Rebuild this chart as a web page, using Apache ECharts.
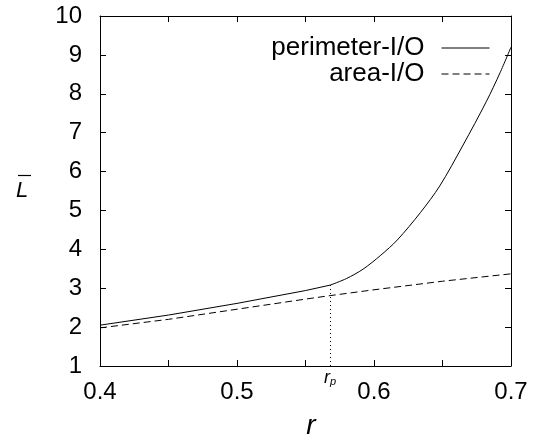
<!DOCTYPE html>
<html>
<head>
<meta charset="utf-8">
<script src="https://cdn.jsdelivr.net/npm/echarts@6/dist/echarts.min.js"></script>
<style>
  html, body { margin: 0; padding: 0; background: #fff; }
  #chart { width: 533px; height: 438px; }
</style>
</head>
<body>
<div id="chart"></div>
<script>
// ---- data ----
const rPerimLow = [0.40, 0.45, 0.50, 0.55, 0.568];
const lPerimLow = [2.05, 2.31, 2.61, 2.94, 3.08];
const rPerimHigh = [0.568, 0.580, 0.592, 0.605, 0.617, 0.634, 0.648, 0.665, 0.682, 0.692, 0.700];
const lPerimHigh = [3.08, 3.25, 3.49, 3.85, 4.24, 4.95, 5.63, 6.68, 7.80, 8.54, 9.20];
const rArea = [0.40, 0.45, 0.50, 0.55, 0.568, 0.60, 0.65, 0.70];
const lArea = [1.98, 2.20, 2.46, 2.72, 2.81, 2.96, 3.18, 3.37];
const rP = 0.568;           // r_p marker position
const lAtRp = 3.08;         // top of the dotted marker (perimeter value at r_p)
const seriesNames = ['perimeter-I/O', 'area-I/O'];
const xMin = 0.4, xMax = 0.7, xStep = 0.05;
const yMin = 1, yMax = 10, yStep = 1;

const perimLowData = rPerimLow.map((r, i) => [r, lPerimLow[i]]);
const perimHighData = rPerimHigh.map((r, i) => [r, lPerimHigh[i]]);
const areaData = rArea.map((r, i) => [r, lArea[i]]);

const FONT = '"Liberation Sans", Arial, Helvetica, sans-serif';
const chart = echarts.init(document.getElementById('chart'), null, { renderer: 'canvas' });

const axisCommon = {
  axisLine: { show: true, lineStyle: { color: '#000', width: 1 } },
  axisTick: { show: true, inside: true, length: 6, lineStyle: { color: '#000', width: 1 } },
  splitLine: { show: false }
};

const legendCommon = {
  orient: 'vertical', right: 43, padding: 0,
  align: 'right', itemWidth: 48, itemHeight: 14,
  itemStyle: { opacity: 0 },
  lineStyle: { width: 1 },
  textStyle: { color: '#000', fontFamily: FONT, fontSize: 26, padding: [0, 12, 0, 0] }
};

const option = {
  animation: false,
  backgroundColor: '#fff',
  grid: { left: 100, right: 22, top: 16, bottom: 72, containLabel: false },
  xAxis: [
    Object.assign({
      type: 'value', min: xMin, max: xMax, interval: xStep, position: 'bottom',
      axisLabel: {
        color: '#000', fontFamily: FONT, fontSize: 24, margin: 14,
        formatter: v => (Math.round(v * 100) % 10 === 0 ? v.toFixed(1) : '')
      }
    }, axisCommon),
    Object.assign({
      type: 'value', min: xMin, max: xMax, interval: xStep, position: 'top',
      axisLabel: { show: false }
    }, axisCommon)
  ],
  yAxis: [
    Object.assign({
      type: 'value', min: yMin, max: yMax, interval: yStep, position: 'left',
      axisLabel: { color: '#000', fontFamily: FONT, fontSize: 24, margin: 18 }
    }, axisCommon),
    Object.assign({
      type: 'value', min: yMin, max: yMax, interval: yStep, position: 'right',
      axisLabel: { show: false }
    }, axisCommon)
  ],
  legend: [
    Object.assign({ data: [seriesNames[0]], top: 35 }, legendCommon),
    Object.assign({ data: [seriesNames[1]], top: 61 }, legendCommon)
  ],
  series: [
    {
      name: seriesNames[0], type: 'line', data: perimLowData, symbol: 'none',
      lineStyle: { color: '#000', width: 1, type: 'solid' },
      itemStyle: { color: '#000' },
      markLine: {
        silent: true, symbol: ['none', 'none'],
        lineStyle: { color: '#000', width: 1, type: [1, 3] },
        label: {
          show: true, position: 'start', distance: 2,
          formatter: '{r|r}{p|p}',
          rich: {
            r: { fontFamily: FONT, fontStyle: 'italic', fontSize: 18, color: '#000' },
            p: { fontFamily: FONT, fontStyle: 'italic', fontSize: 11, color: '#000', padding: [8, 0, 0, 0] }
          }
        },
        data: [[{ coord: [rP, yMin] }, { coord: [rP, lAtRp] }]]
      }
    },
    {
      name: seriesNames[0], type: 'line', data: perimHighData, symbol: 'none',
      smooth: 0.3,
      lineStyle: { color: '#000', width: 1, type: 'solid' },
      itemStyle: { color: '#000' }
    },
    {
      name: seriesNames[1], type: 'line', data: areaData, symbol: 'none',
      lineStyle: { color: '#000', width: 1, type: [7, 4] },
      itemStyle: { color: '#000' }
    }
  ],
  graphic: [
    {
      type: 'text', x: 311, y: 412,
      style: { text: 'r', fontFamily: FONT, fontStyle: 'italic', fontSize: 28, fill: '#000', align: 'center' }
    },
    {
      type: 'text', x: 16, y: 180,
      style: { text: 'L', fontFamily: FONT, fontStyle: 'italic', fontSize: 22, fill: '#000' }
    },
    {
      type: 'line',
      shape: { x1: 18, y1: 175.5, x2: 31, y2: 175.5 },
      style: { stroke: '#000', lineWidth: 1.2 }
    }
  ]
};
chart.setOption(option);
</script>
</body>
</html>
